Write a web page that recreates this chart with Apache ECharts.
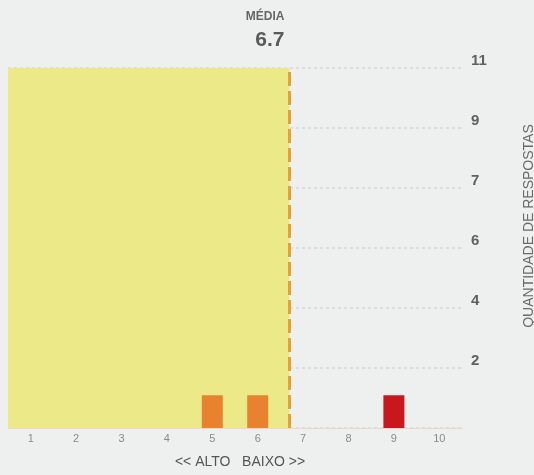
<!DOCTYPE html>
<html>
<head>
<meta charset="utf-8">
<script src="https://cdn.jsdelivr.net/npm/echarts@6/dist/echarts.min.js"></script>
<style>
html,body{margin:0;padding:0;background:#EEF0EF;}
#c{width:534px;height:475px;}
</style>
</head>
<body>
<div id="c"></div>
<script>
var categories = [1, 2, 3, 4, 5, 6, 7, 8, 9, 10];
var counts = [0, 0, 0, 0, 1, 1, 0, 0, 1, 0];
var barColors = ['#E8822E', '#E8822E', '#E8822E', '#E8822E', '#E8822E', '#E8822E', '#E8822E', '#D04A22', '#C8171D', '#C8171D'];
var meanValue = 6.7;
var yMax = 11;
var ySteps = 6;

var barData = categories.map(function (c, i) {
  return { value: [c, counts[i]], itemStyle: { color: barColors[i] } };
}).filter(function (d) { return d.value[1] > 0; });

var chart = echarts.init(document.getElementById('c'));
chart.setOption({
  backgroundColor: '#EEF0EF',
  animation: false,
  grid: { left: 8, right: 72, top: 68, bottom: 47, containLabel: false, outerBoundsMode: 'none' },
  xAxis: {
    type: 'value',
    min: 0.5,
    max: 10.5,
    interval: 0.5,
    name: '<< ALTO   BAIXO >>',
    nameLocation: 'middle',
    nameGap: 27,
    nameTextStyle: { color: '#555', fontSize: 14, fontFamily: 'Liberation Sans', padding: [0, 0, 0, 10] },
    axisLine: { show: true, lineStyle: { color: '#F0D6C8', width: 1 } },
    axisTick: { show: false },
    splitLine: { show: false },
    axisLabel: {
      color: '#8A8A8A', fontSize: 11, margin: 5, fontFamily: 'Liberation Sans',
      formatter: function (v) { return (Math.abs(v - Math.round(v)) < 1e-6 && v >= 1 && v <= 10) ? String(Math.round(v)) : ''; }
    }
  },
  yAxis: {
    type: 'value',
    position: 'right',
    min: 0,
    max: yMax,
    interval: yMax / ySteps,
    name: 'QUANTIDADE DE RESPOSTAS',
    nameLocation: 'middle',
    nameGap: 60,
    nameTextStyle: { color: '#6A6A6A', fontSize: 14, fontFamily: 'Liberation Sans', padding: [0, 0, 0, 44] },
    axisLine: { show: false },
    axisTick: { show: false },
    splitLine: { show: true, lineStyle: { color: '#D6D6D6', type: [3, 3], width: 1.5 } },
    axisLabel: {
      color: '#606060', fontSize: 15, fontWeight: 'bold', margin: 9, fontFamily: 'Liberation Sans',
      verticalAlign: 'bottom',
      formatter: function (v) { return v < 0.5 ? '' : String(Math.round(v)); }
    }
  },
  series: [
    {
      type: 'line',
      data: [],
      z: 1,
      silent: true,
      markArea: {
        silent: true,
        itemStyle: { color: '#ECEA88', opacity: 1 },
        data: [[{ xAxis: 0.5, yAxis: 0 }, { xAxis: meanValue, yAxis: yMax }]]
      }
    },
    {
      type: 'bar',
      data: barData,
      barWidth: 21,
      z: 3,
      markLine: {
        silent: true,
        symbol: 'none',
        lineStyle: { color: '#E8A030', type: [14, 5], width: 3 },
        label: {
          show: true,
          position: 'end',
          distance: 17,
          align: 'right',
          offset: [-5, 0],
          formatter: '{a|MÉDIA}\n{b|' + meanValue.toFixed(1) + '}',
          rich: {
            a: { color: '#666', fontSize: 12, fontWeight: 'bold', fontFamily: 'Liberation Sans', align: 'right', lineHeight: 24 },
            b: { color: '#5A5A5A', fontSize: 21, fontWeight: 'bold', fontFamily: 'Liberation Sans', align: 'right', lineHeight: 22 }
          }
        },
        data: [[{ xAxis: meanValue, yAxis: 0 }, { xAxis: meanValue, yAxis: yMax }]]
      }
    }
  ]
});
</script>
</body>
</html>
